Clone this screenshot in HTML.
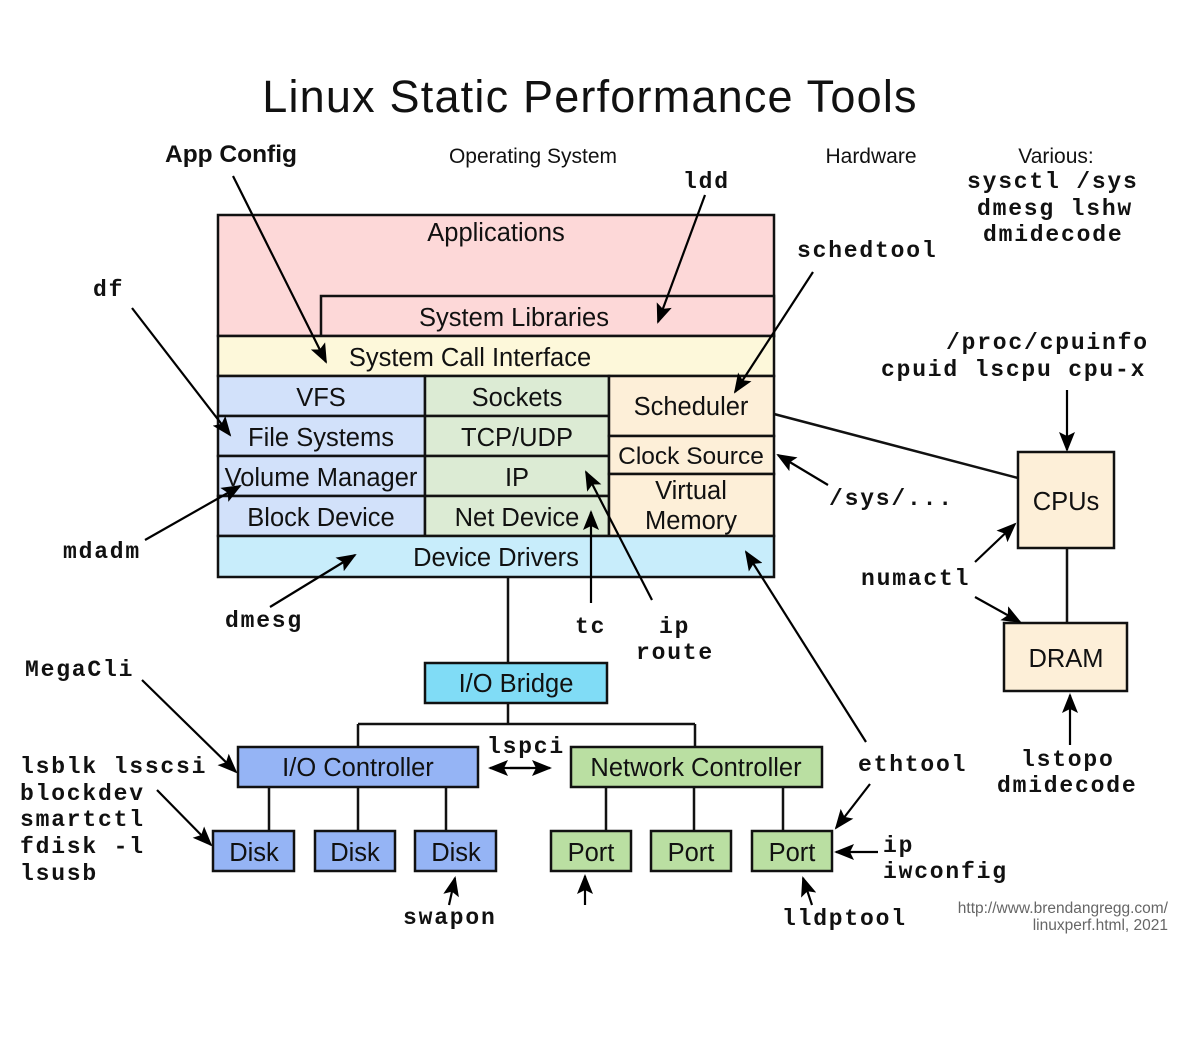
<!DOCTYPE html>
<html><head><meta charset="utf-8"><style>
body{margin:0;background:#fff}
.s{font-family:"Liberation Sans",sans-serif;fill:#111}
.m{font-family:"Liberation Mono",monospace;font-weight:bold;fill:#111;font-size:23px;letter-spacing:1.8px}
</style></head><body>
<svg width="1179" height="1045" viewBox="0 0 1179 1045" xmlns="http://www.w3.org/2000/svg">
<defs>
<marker id="b" markerWidth="20" markerHeight="16" refX="18" refY="8" orient="auto" markerUnits="userSpaceOnUse" viewBox="0 0 20 16"><path d="M0,0 L20,8 L0,16 L4,8 z" fill="#000"/></marker></defs>
<rect width="1179" height="1045" fill="#fff"/>
<text x="590" y="112" class="s" font-size="45" text-anchor="middle" letter-spacing="1.2" fill="#222">Linux Static Performance Tools</text>
<g stroke="#111" stroke-width="2.5">
<rect x="218" y="215" width="556" height="121" fill="#fdd8d8"/>
<rect x="321" y="296" width="453" height="40" fill="#fdd8d8"/>
<rect x="218" y="336" width="556" height="40" fill="#fdf8da"/>
<rect x="218" y="376" width="207" height="40" fill="#d2e1fa"/>
<rect x="218" y="416" width="207" height="40" fill="#d2e1fa"/>
<rect x="218" y="456" width="207" height="40" fill="#d2e1fa"/>
<rect x="218" y="496" width="207" height="40" fill="#d2e1fa"/>
<rect x="425" y="376" width="184" height="40" fill="#dcebd4"/>
<rect x="425" y="416" width="184" height="40" fill="#dcebd4"/>
<rect x="425" y="456" width="184" height="40" fill="#dcebd4"/>
<rect x="425" y="496" width="184" height="40" fill="#dcebd4"/>
<rect x="609" y="376" width="165" height="60" fill="#fdefd8"/>
<rect x="609" y="436" width="165" height="38" fill="#fdefd8"/>
<rect x="609" y="474" width="165" height="62" fill="#fdefd8"/>
<rect x="218" y="536" width="556" height="41" fill="#c8edfb"/>
<path d="M508 577V663M508 703V724M358 724H695M358 724V747M695 724V747M269 787V831M358 787V831M446 787V831M606 787V831M694 787V831M783 787V831M1067 548V623M774 414L1018 478" fill="none"/>
<rect x="425" y="663" width="182" height="40" fill="#80dcf6"/>
<rect x="238" y="747" width="240" height="40" fill="#95b4f5"/>
<rect x="571" y="747" width="251" height="40" fill="#badfa2"/>
<rect x="213" y="831" width="81" height="40" fill="#95b4f5"/>
<rect x="315" y="831" width="80" height="40" fill="#95b4f5"/>
<rect x="415" y="831" width="81" height="40" fill="#95b4f5"/>
<rect x="551" y="831" width="80" height="40" fill="#badfa2"/>
<rect x="651" y="831" width="80" height="40" fill="#badfa2"/>
<rect x="752" y="831" width="80" height="40" fill="#badfa2"/>
<rect x="1018" y="452" width="96" height="96" fill="#fdefd8"/>
<rect x="1004" y="623" width="123" height="68" fill="#fdefd8"/>
</g>
<g class="s" font-size="25.5" text-anchor="middle">
<text x="496" y="241">Applications</text>
<text x="514" y="326">System Libraries</text>
<text x="470" y="366">System Call Interface</text>
<text x="321" y="406">VFS</text><text x="321" y="446">File Systems</text><text x="321" y="486">Volume Manager</text><text x="321" y="526">Block Device</text>
<text x="517" y="406">Sockets</text><text x="517" y="446">TCP/UDP</text><text x="517" y="486">IP</text><text x="517" y="526">Net Device</text>
<text x="691" y="415">Scheduler</text><text x="691" y="464" font-size="24.5">Clock Source</text><text x="691" y="499">Virtual</text><text x="691" y="529">Memory</text>
<text x="496" y="566">Device Drivers</text>
<text x="516" y="692">I/O Bridge</text>
<text x="358" y="776">I/O Controller</text>
<text x="696" y="776">Network Controller</text>
<text x="254" y="861">Disk</text><text x="355" y="861">Disk</text><text x="456" y="861">Disk</text>
<text x="591" y="861">Port</text><text x="691" y="861">Port</text><text x="792" y="861">Port</text>
<text x="1066" y="510">CPUs</text><text x="1066" y="667">DRAM</text>
</g>
<g class="s" font-size="21" text-anchor="middle">
<text x="533" y="163">Operating System</text><text x="871" y="163">Hardware</text><text x="1056" y="163">Various:</text>
</g>
<text x="231" y="162" class="s" font-size="24.5" font-weight="bold" text-anchor="middle">App Config</text>
<g class="s" font-size="15.5" text-anchor="end"><text x="1168" y="913" fill="#666">http://www.brendangregg.com/</text><text x="1168" y="930" fill="#666">linuxperf.html, 2021</text></g>
<g class="m">
<text x="683" y="188">ldd</text>
<text x="967" y="188">sysctl /sys</text><text x="977" y="215">dmesg lshw</text><text x="983" y="241">dmidecode</text>
<text x="797" y="257">schedtool</text>
<text x="93" y="296">df</text>
<text x="946" y="349">/proc/cpuinfo</text><text x="881" y="376">cpuid lscpu cpu-x</text>
<text x="829" y="505">/sys/...</text>
<text x="63" y="558">mdadm</text>
<text x="861" y="585">numactl</text>
<text x="225" y="627">dmesg</text>
<text x="575" y="633">tc</text><text x="659" y="633">ip</text><text x="636" y="659">route</text>
<text x="25" y="676">MegaCli</text>
<text x="487" y="753">lspci</text>
<text x="1021" y="766">lstopo</text><text x="997" y="792">dmidecode</text>
<text x="858" y="771">ethtool</text>
<text x="20" y="773">lsblk lsscsi</text><text x="20" y="800">blockdev</text><text x="20" y="826">smartctl</text><text x="20" y="853">fdisk -l</text><text x="20" y="880">lsusb</text>
<text x="883" y="852">ip</text><text x="883" y="878">iwconfig</text>
<text x="403" y="924">swapon</text>
<text x="782" y="925">lldptool</text>
</g>
<g stroke="#000" stroke-width="2.2" fill="none" marker-end="url(#b)">
<path d="M233 176L326 362"/><path d="M705 195L658 322"/><path d="M813 272L735 392"/>
<path d="M132 308L230 435"/><path d="M145 540L240 486"/><path d="M270 607L355 555"/>
<path d="M591 603V512"/><path d="M652 600L586 472"/><path d="M866 742L746 552"/>
<path d="M870 784L836 828"/><path d="M878 852H836"/><path d="M812 905L803 878"/>
<path d="M449 905L455 878"/><path d="M585 905V876"/><path d="M142 680L236 772"/>
<path d="M157 790L211 845"/><path d="M828 485L778 455"/><path d="M975 562L1015 524"/>
<path d="M975 597L1020 622"/><path d="M1067 390V450"/><path d="M1070 745V695"/>
<path d="M510 768H550"/><path d="M530 768H490"/>
</g>
</svg>
</body></html>
